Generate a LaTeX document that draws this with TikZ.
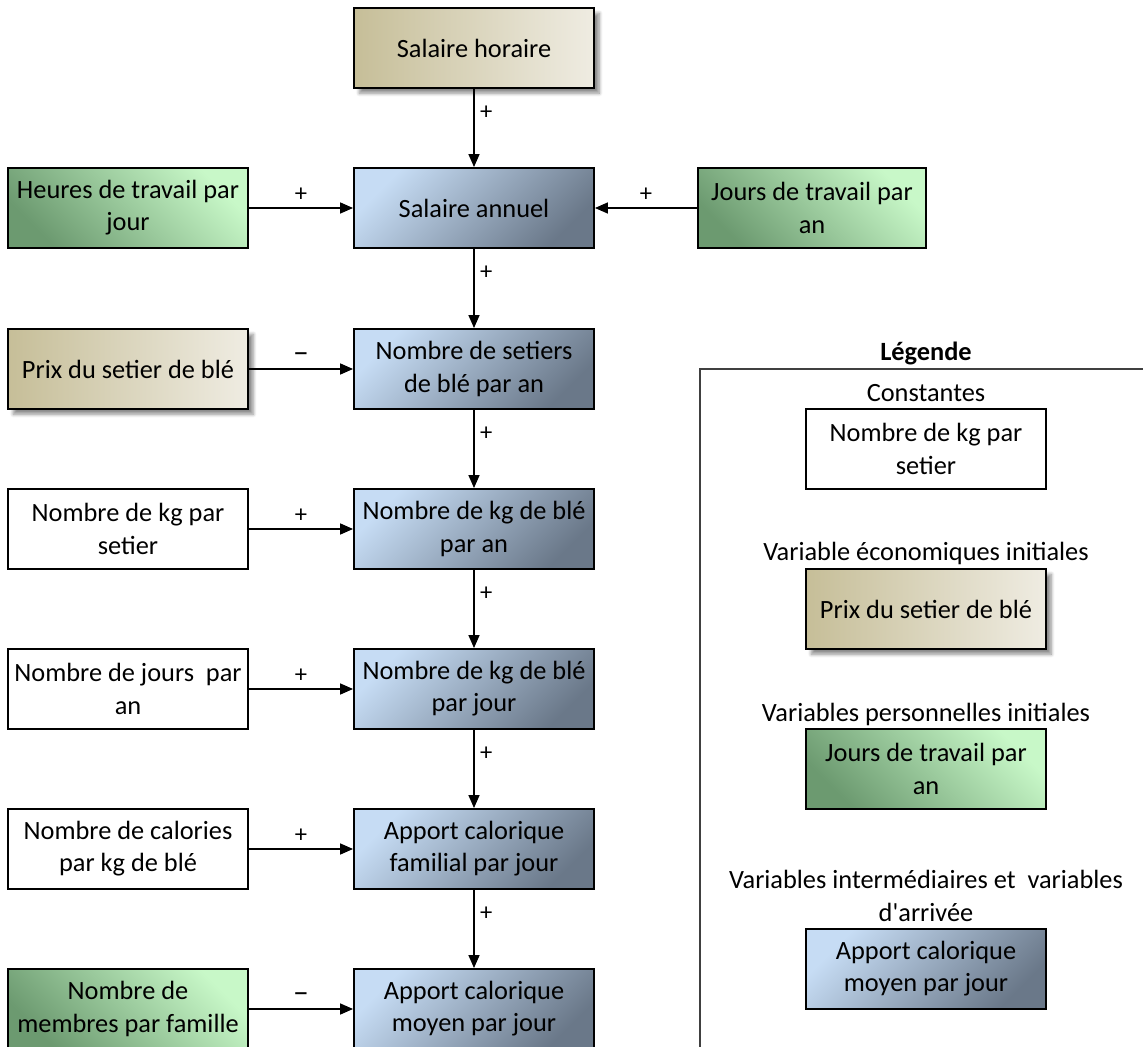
\documentclass[tikz,border=0pt]{standalone}
\usepackage{fontspec}
\setmainfont{Carlito}
\usetikzlibrary{arrows.meta,shadows.blur}
\definecolor{tanD}{HTML}{C6BE98}
\definecolor{tanL}{HTML}{EFECE2}
\definecolor{grnL}{HTML}{C8F8C8}
\definecolor{grnD}{HTML}{6C9A70}
\definecolor{bluL}{HTML}{C6DCF4}
\definecolor{bluD}{HTML}{6A7889}
\tikzset{
  box/.style={draw,line width=1.1pt,minimum width=4.8cm,minimum height=1.6cm,align=center,inner sep=2pt,font=\fontsize{15}{18.3}\selectfont},
  cst/.style={box,fill=white},
  eco/.style={box,left color=tanD,right color=tanL,blur shadow={shadow xshift=3pt,shadow yshift=-3pt,shadow blur steps=6,shadow opacity=45}},
  pers/.style={box,top color=grnL,bottom color=grnD,shading angle=-45},
  inter/.style={box,top color=bluL,bottom color=bluD,shading angle=45},
  fl/.style={-{Triangle[length=2.6mm,width=2.2mm]},line width=0.9pt},
  sg/.style={font=\fontsize{14}{16}\selectfont,inner sep=3pt},
  lbl/.style={font=\fontsize{15}{18.3}\selectfont,align=center}
}
\begin{document}
\begin{tikzpicture}[x=0.02cm,y=-0.02cm]
       \clip(0,0)rectangle(1143,1047);
       \node[eco](sh)at(474,48){Salaire horaire};
       \node[inter](sa)at(474,208){Salaire annuel};
       \node[inter](ns)at(474,369){Nombre de setiers\\de blé par an};
       \node[inter](kan)at(474,529){Nombre de kg de blé\\par an};
       \node[inter](kj)at(474,689){Nombre de kg de blé\\par jour};
       \node[inter](acf)at(474,849){Apport calorique\\familial par jour};
       \node[inter](acm)at(474,1009){Apport calorique\\moyen par jour};
       \node[pers](htj)at(128,208){Heures de travail par\\jour};
       \node[pers,minimum width=4.56cm](jta)at(812,208){Jours de travail par\\an};
       \node[eco](psb)at(128,369){Prix du setier de blé};
       \node[cst](kgs)at(128,529){Nombre de kg par\\setier};
       \node[cst](nja)at(128,689){Nombre de jours\ \ par\\an};
       \node[cst](ncal)at(128,849){Nombre de calories\\par kg de blé};
       \node[pers](nmf)at(128,1009){Nombre de\\membres par famille};
       \draw[fl](sh)--node[sg,right,pos=0.3]{+}(sa);
       \draw[fl](sa)--node[sg,right,pos=0.3]{+}(ns);
       \draw[fl](ns)--node[sg,right,pos=0.3]{+}(kan);
       \draw[fl](kan)--node[sg,right,pos=0.3]{+}(kj);
       \draw[fl](kj)--node[sg,right,pos=0.3]{+}(acf);
       \draw[fl](acf)--node[sg,right,pos=0.3]{+}(acm);
       \draw[fl](htj)--node[sg,above]{+}(sa);
       \draw[fl](jta)--node[sg,above]{+}(sa);
       \draw[fl](psb)--node[sg,above,font=\fontsize{18}{16}\selectfont]{–}(ns);
       \draw[fl](kgs)--node[sg,above]{+}(kan);
       \draw[fl](nja)--node[sg,above]{+}(kj);
       \draw[fl](ncal)--node[sg,above]{+}(acf);
       \draw[fl](nmf)--node[sg,above,font=\fontsize{18}{16}\selectfont]{–}(acm);
       \draw[line width=0.6pt,black!75](1143,369)--(700,369)--(700,1047);
       \node[lbl,font=\fontsize{15}{18}\selectfont\bfseries](lg)at(926,353){Légende};
       \node[lbl](tc)at(926,393){Constantes};
       \node[cst](lc)at(926,449){Nombre de kg par\\setier};
       \node[lbl](te)at(926,553){Variable économiques initiales};
       \node[eco](le)at(926,609){Prix du setier de blé};
       \node[lbl](tp)at(926,714){Variables personnelles initiales};
       \node[pers](lp)at(926,769){Jours de travail par\\an};
       \node[lbl](ti)at(926,896){Variables intermédiaires et\ \ variables\\d\textquotesingle arrivée};
       \node[inter](li)at(926,969){Apport calorique\\moyen par jour};
\end{tikzpicture}
\end{document}
